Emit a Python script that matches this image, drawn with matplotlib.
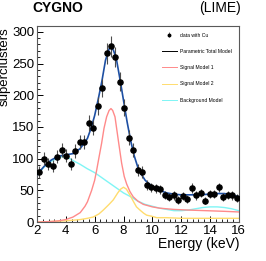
import matplotlib as mpl
mpl.use('Agg')
import matplotlib.pyplot as plt
from matplotlib.ticker import MultipleLocator
import numpy as np

mpl.rcParams.update({
    'font.family': ['Liberation Sans', 'DejaVu Sans'],
    'xtick.direction': 'in',
    'ytick.direction': 'in',
})

# data histogram (45 bins, 2-16 keV)
bin_centers = [2.156, 2.467, 2.778, 3.089, 3.400, 3.711, 4.022, 4.333, 4.644, 4.956,
               5.267, 5.578, 5.889, 6.200, 6.511, 6.822, 7.133, 7.444, 7.756, 8.067,
               8.378, 8.689, 9.000, 9.311, 9.622, 9.933, 10.244, 10.556, 10.867, 11.178,
               11.489, 11.800, 12.111, 12.422, 12.733, 13.044, 13.356, 13.667, 13.978, 14.289,
               14.600, 14.911, 15.222, 15.533, 15.844]
counts = [79, 100, 92, 89, 103, 114, 105, 91, 112, 126,
          126, 156, 149, 183, 211, 266, 277, 260, 221, 180,
          133, 114, 82, 79, 58, 55, 53, 52, 43, 40,
          42, 35, 41, 36, 54, 42, 46, 34, 44, 44,
          55, 40, 43, 42, 38]

# model curves
total_e = [2.0, 2.5, 3.0, 3.5, 4.0, 4.5, 5.0, 5.5, 5.75, 6.0, 6.25, 6.5, 6.75, 7.0, 7.13,
           7.3, 7.5, 7.75, 8.0, 8.25, 8.5, 8.75, 9.0, 9.25, 9.5, 10.0, 10.5, 11.0, 11.5,
           12.0, 13.0, 14.0, 14.5, 15.0, 15.5, 16.0]
total_n = [75, 88, 98, 104, 106, 108, 116, 132, 148, 168, 194, 222, 255, 273, 276,
           271, 258, 226, 192, 158, 128, 104, 86, 75, 66, 56, 50, 46, 44,
           43, 43, 44, 45, 45, 43, 40]

sig1_e = [2.0, 3.0, 3.5, 4.0, 4.5, 5.0, 5.33, 5.5, 5.79, 6.0, 6.14, 6.3, 6.48, 6.65, 6.83,
          7.0, 7.13, 7.25, 7.41, 7.64, 7.87, 8.05, 8.22, 8.45, 8.67, 9.0, 9.37, 10.0, 10.5,
          11.5, 12.5, 13.75, 15.0, 16.0]
sig1_n = [0, 1, 2, 4, 8, 15, 25, 32, 50, 66, 82, 102, 124, 148, 166,
          176, 179, 176, 166, 129, 93, 72, 60, 48, 40, 33, 28, 24, 22,
          20, 19, 18, 17, 16]

sig2_e = [2.0, 4.0, 5.0, 5.5, 5.9, 6.3, 6.6, 7.0, 7.29, 7.6, 7.8, 8.0, 8.2, 8.44, 8.7,
          8.9, 9.14, 9.4, 9.6, 10.0, 10.3, 11.0, 12.0, 16.0]
sig2_n = [0, 2, 4, 6, 8, 13, 19, 28, 35, 46, 52, 55, 52, 43, 32,
          24, 19, 14, 11, 9, 7, 7, 6, 6]

bkg_e = [2.0, 2.5, 3.0, 3.5, 4.0, 4.5, 5.0, 5.5, 6.0, 6.5, 7.0, 7.5, 8.0, 8.5, 9.0,
         9.5, 10.0, 10.5, 11.0, 11.5, 12.0, 12.5, 13.0, 13.5, 14.0, 14.5, 15.0, 15.5, 16.0]
bkg_n = [74, 87, 96, 102, 104, 97, 91, 84, 78, 70, 62, 54, 46, 40, 33,
         28, 25, 22, 20, 18, 18, 19, 21, 23, 24, 24, 23, 21, 18]

fig = plt.figure(figsize=(2.66, 2.61), dpi=100)
ax = fig.add_axes([0.139, 0.149, 0.759, 0.751])

ax.plot(bkg_e, bkg_n, color='#7ff5f5', lw=1.0, zorder=2)
ax.plot(sig2_e, sig2_n, color='#ffdc6e', lw=1.0, zorder=2)
ax.plot(sig1_e, sig1_n, color='#ff8a8a', lw=1.0, zorder=2)
ax.plot(total_e, total_n, color='#1d4fa3', lw=1.2, zorder=3)
ax.errorbar(bin_centers, counts, yerr=np.sqrt(counts), fmt='o', color='black',
            ecolor='0.3', elinewidth=0.8, capsize=0, markersize=3.7, zorder=4)

# legend handles (total model shown black in the legend)
h_data = ax.errorbar([], [], yerr=[], fmt='o', color='black', ecolor='0.35',
                     elinewidth=0.6, markersize=1.8)
h_tot, = ax.plot([], [], color='black', lw=0.7)
h_s1, = ax.plot([], [], color='#ff8a8a', lw=0.7)
h_s2, = ax.plot([], [], color='#ffdc6e', lw=0.7)
h_bk, = ax.plot([], [], color='#7ff5f5', lw=0.7)
ax.legend([h_data, h_tot, h_s1, h_s2, h_bk],
          ['data with Cu', 'Parametric Total Model', 'Signal Model 1',
           'Signal Model 2', 'Background Model'],
          loc='upper left', bbox_to_anchor=(0.60, 0.985), frameon=False,
          fontsize=3.6, handlelength=3.0, labelspacing=2.25, handletextpad=0.6,
          borderpad=0.2)

ax.set_xlim(2, 16)
ax.set_ylim(0, 309)
ax.xaxis.set_major_locator(MultipleLocator(2))
ax.xaxis.set_minor_locator(MultipleLocator(0.4))
ax.yaxis.set_major_locator(MultipleLocator(50))
ax.yaxis.set_minor_locator(MultipleLocator(10))
ax.tick_params(axis='both', which='major', length=4, width=0.7, labelsize=9.5, pad=2)
ax.tick_params(axis='both', which='minor', length=2, width=0.6)
for spine in ax.spines.values():
    spine.set_color('0.35')
    spine.set_linewidth(0.8)

fig.text(0.018, 0.897, 'superclusters', rotation=90, ha='center', va='top', fontsize=9.5)
fig.text(0.902, 0.065, 'Energy (keV)', ha='right', va='center', fontsize=10)
fig.text(0.12, 0.968, 'CYGNO', ha='left', va='center', fontsize=10, fontweight='bold')
fig.text(0.905, 0.968, '(LIME)', ha='right', va='center', fontsize=10)

fig.savefig('out.png', dpi=100)
